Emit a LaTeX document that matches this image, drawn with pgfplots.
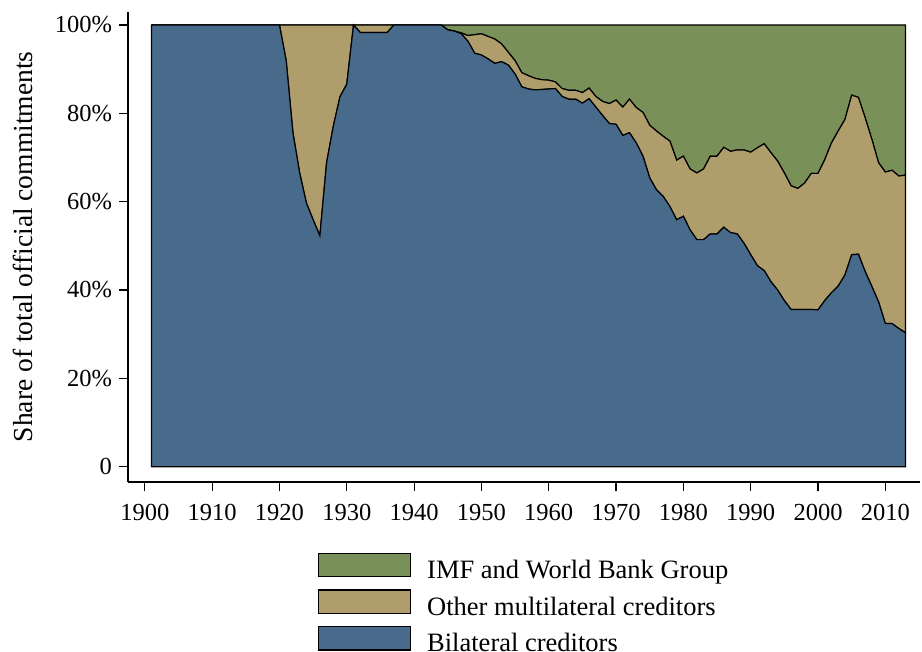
\documentclass[border=0pt]{standalone}
\usepackage{fontspec}
\setmainfont{Liberation Serif}
\usepackage{pgfplots}
\usepackage{pgfplotstable}
\pgfplotsset{compat=1.18}
\definecolor{cblue}{RGB}{72,106,139}
\definecolor{ctan}{RGB}{175,158,108}
\definecolor{cgreen}{RGB}{121,144,89}

\pgfplotstableread{
year bil oth imf
1901 100 0 0
1902 100 0 0
1903 100 0 0
1904 100 0 0
1905 100 0 0
1906 100 0 0
1907 100 0 0
1908 100 0 0
1909 100 0 0
1910 100 0 0
1911 100 0 0
1912 100 0 0
1913 100 0 0
1914 100 0 0
1915 100 0 0
1916 100 0 0
1917 100 0 0
1918 100 0 0
1919 100 0 0
1920 100 0 0
1921 91.9 8.1 0
1922 75.6 24.4 0
1923 66.5 33.5 0
1924 59.7 40.3 0
1925 55.9 44.1 0
1926 52.3 47.7 0
1927 68.8 31.2 0
1928 77.1 22.9 0
1929 83.8 16.2 0
1930 86.6 13.4 0
1931 100 0 0
1932 98.3 1.7 0
1933 98.3 1.7 0
1934 98.3 1.7 0
1935 98.3 1.7 0
1936 98.3 1.7 0
1937 100 0 0
1938 100 0 0
1939 100 0 0
1940 100 0 0
1941 100 0 0
1942 100 0 0
1943 100 0 0
1944 100 0 0
1945 98.9 0 1.1
1946 98.6 0 1.4
1947 98.0 0.2 1.8
1948 96.3 1.3 2.4
1949 93.6 4.2 2.2
1950 93.2 4.8 2.0
1951 92.3 5.1 2.6
1952 91.3 5.5 3.2
1953 91.7 4.0 4.3
1954 90.9 2.9 6.2
1955 88.9 3.0 8.1
1956 86.0 3.2 10.8
1957 85.5 3.0 11.5
1958 85.3 2.6 12.1
1959 85.4 2.2 12.4
1960 85.5 2.0 12.5
1961 85.6 1.5 12.9
1962 83.8 1.8 14.4
1963 83.2 2.0 14.8
1964 83.2 2.0 14.8
1965 82.3 2.4 15.3
1966 83.3 2.4 14.3
1967 81.4 2.4 16.2
1968 79.5 3.2 17.3
1969 77.7 4.5 17.8
1970 77.5 5.5 17.0
1971 75.0 6.4 18.6
1972 75.6 7.6 16.8
1973 73.3 8.0 18.7
1974 70.3 9.9 19.8
1975 65.4 11.9 22.7
1976 62.7 13.3 24.0
1977 61.2 13.6 25.2
1978 58.9 14.8 26.3
1979 55.9 13.5 30.6
1980 56.7 13.6 29.7
1981 53.6 13.8 32.6
1982 51.4 15.1 33.5
1983 51.4 16.0 32.6
1984 52.7 17.6 29.7
1985 52.7 17.6 29.7
1986 54.2 18.1 27.7
1987 53.0 18.4 28.6
1988 52.7 19.0 28.3
1989 50.6 21.1 28.3
1990 48.0 23.2 28.8
1991 45.5 26.7 27.8
1992 44.4 28.7 26.9
1993 41.9 29.2 28.9
1994 40.0 29.2 30.8
1995 37.6 28.9 33.5
1996 35.6 28.0 36.4
1997 35.6 27.4 37.0
1998 35.6 28.6 35.8
1999 35.6 30.8 33.6
2000 35.5 30.9 33.6
2001 37.6 31.9 30.5
2002 39.4 33.9 26.7
2003 40.9 35.1 24.0
2004 43.4 35.2 21.4
2005 48.0 36.1 15.9
2006 48.1 35.5 16.4
2007 44.2 34.8 21.0
2008 40.8 33.3 25.9
2009 37.3 31.5 31.2
2010 32.4 34.3 33.3
2011 32.4 34.7 32.9
2012 31.3 34.5 34.2
2013 30.3 35.7 34.0
}\datatable

\begin{document}
\begin{tikzpicture}
\useasboundingbox (-64pt,-85pt) rectangle (397pt,241pt);
\begin{axis}[
  at={(0pt,0pt)}, anchor=south west,
  scale only axis, width=396pt, height=235.15pt,
  xmin=1897.5, xmax=2015.15, ymin=-3.46, ymax=103,
  axis x line*=bottom, axis y line*=left,
  axis line style={line width=0.6pt, black, -},
  xtick={1900,1910,...,2010},
  ytick={0,20,40,60,80,100},
  yticklabels={0,20\%,40\%,60\%,80\%,100\%},
  tick align=outside, major tick length=4.5pt,
  tick style={line width=0.6pt, black},
  /pgf/number format/1000 sep={},
  /pgf/number format/assume math mode=true,
  ticklabel style={font=\fontsize{12.25}{14}\selectfont},
  xticklabel style={yshift=-3pt},
  every axis y label/.style={at={(axis description cs:-0.1206,0.5)}, rotate=90, anchor=base, font=\fontsize{13.75}{16}\selectfont},
  ylabel={Share of total official commitments},
  stack plots=y,
  reverse legend,
  legend cell align=left,
  legend image code/.code={\draw[#1] (0pt,-2.2pt) rectangle (46pt,9.45pt);},
  legend style={at={(axis description cs:0.2399,-0.1503)}, anchor=north west,
    draw=none, fill=none, inner sep=0pt, outer sep=0pt,
    row sep=2.7pt, column sep=8pt,
    font=\fontsize{13.25}{15}\selectfont,
    nodes={inner sep=0pt, text height=9pt, text depth=2.8pt}},
]
\addplot[fill=cblue, draw=black, line width=0.6pt] table[x=year,y=bil]{\datatable} \closedcycle;
\addlegendentry{Bilateral creditors}
\addplot[fill=ctan, draw=black, line width=0.6pt] table[x=year,y=oth]{\datatable} \closedcycle;
\addlegendentry{Other multilateral creditors}
\addplot[fill=cgreen, draw=black, line width=0.6pt] table[x=year,y=imf]{\datatable} \closedcycle;
\addlegendentry{IMF and World Bank Group}
\end{axis}
\end{tikzpicture}
\end{document}
